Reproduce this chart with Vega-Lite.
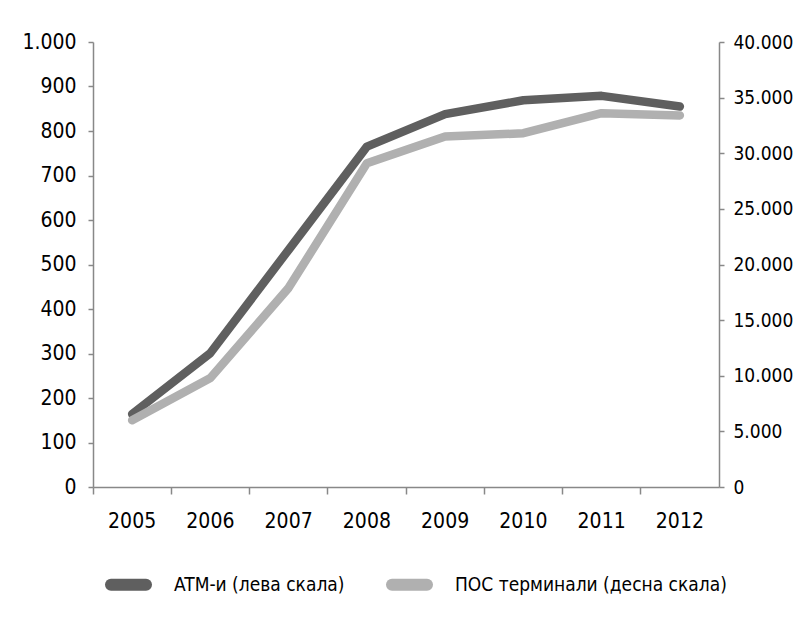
{
  "$schema": "https://vega.github.io/schema/vega-lite/v6.json",
  "autosize": {"type": "none"},
  "width": 626,
  "height": 445,
  "padding": {"left": 93, "top": 42, "right": 76, "bottom": 137},
  "background": "white",
  "config": {
    "view": {"stroke": null},
    "font": "DejaVu Sans Condensed",
    "axis": {
      "labelFont": "DejaVu Sans Condensed",
      "labelFontSize": 21,
      "labelColor": "#000000",
      "domainColor": "#888888",
      "domainWidth": 1.5,
      "tickColor": "#888888",
      "tickWidth": 1.5,
      "grid": false,
      "title": null
    },
    "legend": {
      "labelFont": "DejaVu Sans Condensed",
      "labelFontSize": 19,
      "labelColor": "#000000",
      "labelLimit": 0
    }
  },
  "data": {
    "values": [
      {"year": "2005", "atm": 164, "pos": 6000},
      {"year": "2006", "atm": 301, "pos": 9800},
      {"year": "2007", "atm": 533, "pos": 17900},
      {"year": "2008", "atm": 765, "pos": 29100},
      {"year": "2009", "atm": 838, "pos": 31500},
      {"year": "2010", "atm": 869, "pos": 31800},
      {"year": "2011", "atm": 879, "pos": 33600},
      {"year": "2012", "atm": 855, "pos": 33400}
    ]
  },
  "encoding": {
    "x": {
      "field": "year",
      "type": "ordinal",
      "bandPosition": 0.5,
      "scale": {"type": "band", "paddingInner": 0, "paddingOuter": 0},
      "axis": {"labelAngle": 0, "bandPosition": 0, "tickSize": 7, "labelPadding": 16}
    }
  },
  "layer": [
    {
      "mark": {"type": "line", "strokeWidth": 8.5, "strokeCap": "round", "strokeJoin": "round"},
      "encoding": {
        "y": {
          "field": "atm",
          "type": "quantitative",
          "scale": {"domain": [0, 1000]},
          "axis": {
            "orient": "left",
            "values": [0, 100, 200, 300, 400, 500, 600, 700, 800, 900, 1000],
            "tickSize": 5,
            "labelPadding": 12,
            "labelExpr": "replace(format(datum.value, ','), ',', '.')"
          }
        },
        "color": {
          "datum": "ATM-и (лева скала)",
          "type": "nominal",
          "scale": {
            "domain": ["ATM-и (лева скала)", "ПОС терминали (десна скала)"],
            "range": ["#5f5f5f", "#b0b0b0"]
          },
          "legend": {
            "orient": "none",
            "direction": "horizontal",
            "legendX": 12,
            "legendY": 519,
            "title": null,
            "symbolType": "stroke",
            "symbolSize": 1225,
            "symbolStrokeWidth": 12,
            "labelOffset": 22,
            "columnPadding": 23,
            "encode": {"symbols": {"update": {"strokeCap": {"value": "round"}}}}
          }
        }
      }
    },
    {
      "mark": {"type": "line", "strokeWidth": 8.5, "strokeCap": "round", "strokeJoin": "round"},
      "encoding": {
        "y": {
          "field": "pos",
          "type": "quantitative",
          "scale": {"domain": [0, 40000]},
          "axis": {
            "orient": "right",
            "values": [0, 5000, 10000, 15000, 20000, 25000, 30000, 35000, 40000],
            "tickSize": 5,
            "labelPadding": 9,
            "labelFontSize": 19,
            "labelExpr": "replace(format(datum.value, ','), ',', '.')"
          }
        },
        "color": {"datum": "ПОС терминали (десна скала)", "type": "nominal"}
      }
    }
  ],
  "resolve": {"scale": {"y": "independent"}}
}
